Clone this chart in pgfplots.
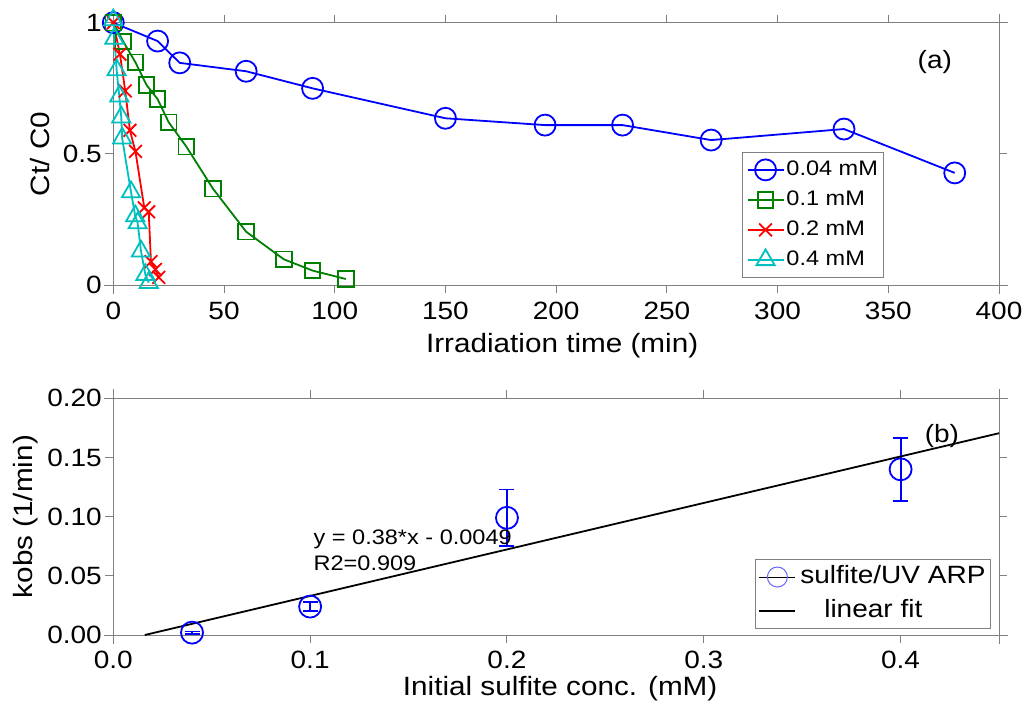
\documentclass[border=0pt]{standalone}
\usepackage{fontspec}
\setmainfont{Liberation Sans}[FakeStretch=1.12]
\usepackage{pgfplots}
\pgfplotsset{compat=1.18}
\definecolor{cblue}{RGB}{0,0,255}
\definecolor{cgreen}{RGB}{0,128,0}
\definecolor{cred}{RGB}{255,0,0}
\definecolor{ccyan}{RGB}{0,191,191}
\definecolor{axgray}{RGB}{128,128,128}
\begin{document}
\begin{tikzpicture}
\useasboundingbox (0,0) rectangle (1024pt,706pt);
\pgfplotsset{
  mystyle/.style={
    scale only axis,
    clip=false,
    separate axis lines,
    axis line style={draw=axgray, line width=1pt, shorten <=-9pt, shorten >=-9pt},
    tick style={draw=axgray, line width=1pt},
    tick align=outside,
    major tick length=8pt,
    tick label style={font=\fontsize{25}{25}\selectfont},
    xticklabel style={yshift=-5pt},
    label style={font=\fontsize{26.5}{26.5}\selectfont},
    /pgf/number format/assume math mode=true,
    legend cell align=left,
  },
  myline/.style={line width=1.8pt, mark options={solid, line width=1.8pt}},
}
% ---------------- (a)
\begin{axis}[mystyle,
  at={(113.3pt,420.7pt)}, anchor=south west,
  width=885.7pt, height=262.6pt,
  xmin=0, xmax=400, ymin=0, ymax=1,
  xtick={0,50,...,400}, ytick={0,0.5,1},
  xlabel={Irradiation time (min)},
  ylabel={Ct/ C0},
  xlabel style={at={(axis description cs:0.5,0)}, anchor=center, yshift=-60pt, xshift=6pt},
  ylabel style={at={(axis description cs:-0.0824,0.5)}, anchor=center},
  legend style={at={(0.71,0.508)}, anchor=north west, draw=axgray, line width=1pt,
    font=\fontsize{21}{21}\selectfont, inner xsep=4pt, inner ysep=6pt,
    row sep=7pt, nodes={inner xsep=2pt, inner ysep=2pt, text height=15pt, text depth=4pt}},
  legend image code/.code={\draw[mark repeat=2, mark phase=2, #1] plot coordinates {(0pt,0pt) (18pt,0pt) (36pt,0pt)};},
]
\addplot[myline, color=cblue, mark=o, mark size=10.5pt] coordinates {
(0,1.0) (20,0.930) (30,0.847) (60,0.815) (90,0.750) (150,0.636) (195,0.610) (230,0.610) (270,0.553) (330,0.595) (380,0.428)};
\addlegendentry{0.04 mM}
\addplot[myline, color=cgreen, mark=square, mark size=7.8pt] coordinates {
(0,1.0) (4.5,0.928) (10,0.849) (15,0.763) (20,0.709) (25,0.621) (33,0.528) (45,0.368) (60,0.204) (77,0.099) (90,0.056) (105,0.024)};
\addlegendentry{0.1 mM}
\addplot[myline, color=cred, mark=x, mark size=9pt] coordinates {
(0,1.0) (3,0.88) (5.4,0.74) (7.5,0.59) (10,0.51) (14,0.295) (16,0.28) (17,0.09) (19,0.06) (20.5,0.03)};
\addlegendentry{0.2 mM}
\addplot[myline, color=ccyan, mark=triangle, mark size=10.5pt] coordinates {
(0,1.01) (0.5,0.94) (1.5,0.82) (2.7,0.72) (3.6,0.64) (4,0.56) (8,0.355) (9.9,0.264) (11,0.237) (12.5,0.13) (14.5,0.04) (16,0.01)};
\addlegendentry{0.4 mM}
\node[font=\fontsize{25}{25}\selectfont] at (axis cs:371,0.85) {(a)};
\end{axis}
% ---------------- (b)
\begin{axis}[mystyle,
  at={(113.3pt,71pt)}, anchor=south west,
  width=885.7pt, height=236.7pt,
  xmin=0, xmax=0.45, ymin=0, ymax=0.2,
  xtick={0,0.1,...,0.4}, ytick={0,0.05,...,0.2},
  xticklabel style={/pgf/number format/.cd, fixed, fixed zerofill, precision=1},
  yticklabel style={/pgf/number format/.cd, fixed, fixed zerofill, precision=2},
  scaled ticks=false,
  xlabel={Initial sulfite conc. (mM)},
  ylabel={kobs (1/min)},
  xlabel style={at={(axis description cs:0.5,0)}, anchor=center, yshift=-54pt, xshift=4pt},
  ylabel style={at={(axis description cs:-0.0994,0.5)}, anchor=center},
  legend style={at={(0.7245,0.321)}, anchor=north west, draw=axgray, line width=1pt,
    font=\fontsize{25}{25}\selectfont, inner xsep=3pt, inner ysep=4pt,
    row sep=7pt, nodes={inner xsep=2pt, inner ysep=2pt, text height=18pt, text depth=5pt}},
]
\addplot[color=cblue, only marks, mark=o, mark size=11pt, line width=1.8pt, forget plot,
  error bars/.cd, y dir=both, y explicit, error bar style={line width=1.8pt}, error mark options={rotate=90, mark size=7.5pt, line width=1.8pt}]
  coordinates {
  (0.04,0.002) +- (0,0.001)
  (0.1,0.024) +- (0,0.004)
  (0.2,0.099) +- (0,0.024)
  (0.4,0.140) +- (0,0.0265)};
\addplot[black, line width=1.8pt, forget plot] coordinates {(0.016,0) (0.45,0.1705)};
\addlegendimage{legend image code/.code={\path (0pt,0pt) -- (36pt,0pt); \draw[cblue!60, line width=1pt] (18pt,0pt) circle (10pt);}}
\addlegendentry{\hspace{2pt}sulfite/UV ARP}
\addlegendimage{legend image code/.code={\draw[black, line width=1.8pt] (0pt,0pt) -- (36pt,0pt);}}
\addlegendentry{\hspace{26pt}linear fit}
\node[anchor=west, font=\fontsize{21}{21}\selectfont] at (axis cs:0.1,0.081) {y = 0.38*x - 0.0049};
\node[anchor=west, font=\fontsize{21}{21}\selectfont] at (axis cs:0.1,0.061) {R2=0.909};
\node[font=\fontsize{25}{25}\selectfont] at (axis cs:0.421,0.168) {(b)};
\end{axis}
\end{tikzpicture}
\end{document}
